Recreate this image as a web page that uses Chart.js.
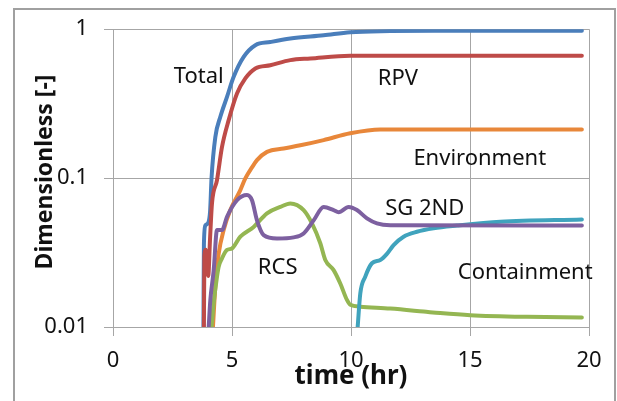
<!DOCTYPE html>
<html>
<head>
<meta charset="utf-8">
<script src="https://cdn.jsdelivr.net/npm/chart.js@4.4.1/dist/chart.umd.min.js"></script>
<style>
  html, body { margin: 0; padding: 0; background: #fff; }
  #wrap { width: 617px; height: 401px; position: relative; }
</style>
</head>
<body>
<div id="wrap"><canvas id="chart" width="617" height="401"></canvas></div>
<script>
// time axis ticks and labels
const xTicks = [0, 5, 10, 15, 20]
const xTickLabels = ["0", "5", "10", "15", "20"]
const yTicks = [0.01, 0.1, 1]
const yTickLabels = ["0.01", "0.1", "1"]

// each series: time [hr] and dimensionless fraction
const totalTime = [3.8, 3.82, 3.88, 4.0, 4.08, 4.14, 4.3, 4.51, 4.79, 5.07, 5.49, 5.98, 6.61, 7.45, 8.85, 9.97, 11.65, 13.5, 19.7]
const totalVal  = [0.01, 0.036, 0.048, 0.05, 0.06, 0.1, 0.189, 0.258, 0.351, 0.479, 0.652, 0.781, 0.82, 0.865, 0.91, 0.955, 0.972, 0.978, 0.978]

const rpvTime = [3.82, 3.84, 3.9, 4.0, 4.08, 4.16, 4.37, 4.58, 4.86, 5.21, 5.56, 5.98, 6.61, 7.45, 8.29, 9.97, 19.7]
const rpvVal  = [0.01, 0.03, 0.033, 0.022, 0.04, 0.068, 0.097, 0.162, 0.245, 0.37, 0.467, 0.545, 0.573, 0.62, 0.636, 0.664, 0.664]

const envTime = [4.2, 4.3, 4.44, 4.65, 4.93, 5.35, 5.56, 5.84, 6.05, 6.47, 7.17, 7.87, 8.85, 9.97, 11.23, 19.7]
const envVal  = [0.01, 0.0187, 0.031, 0.0448, 0.061, 0.083, 0.0995, 0.118, 0.132, 0.15, 0.158, 0.166, 0.18, 0.2, 0.212, 0.212]

const sgTime = [4.02, 4.09, 4.23, 4.37, 4.58, 4.79, 5.21, 5.63, 5.84, 6.05, 6.33, 6.89, 7.59, 8.01, 8.43, 8.85, 9.27, 9.48, 9.9, 10.25, 10.67, 11.09, 11.65, 19.7]
const sgVal  = [0.01, 0.0152, 0.024, 0.0448, 0.0448, 0.055, 0.071, 0.077, 0.071, 0.052, 0.0414, 0.0393, 0.04, 0.0425, 0.052, 0.064, 0.061, 0.059, 0.064, 0.061, 0.0537, 0.0497, 0.0483, 0.048]

const contTime = [10.28, 10.39, 10.6, 10.88, 11.23, 11.51, 11.79, 12.21, 12.77, 13.47, 14.45, 16.27, 19.7]
const contVal  = [0.01, 0.0168, 0.0218, 0.0268, 0.0282, 0.031, 0.0355, 0.0404, 0.0436, 0.046, 0.048, 0.051, 0.0528]

const rcsTime = [4.14, 4.23, 4.37, 4.44, 4.58, 4.79, 5.0, 5.35, 5.91, 6.47, 7.03, 7.45, 8.01, 8.36, 8.71, 8.92, 9.27, 9.55, 9.83, 9.97, 10.39, 11.65, 13.05, 13.75, 15.01, 17.39, 19.7]
const rcsVal  = [0.01, 0.0145, 0.0218, 0.0254, 0.0289, 0.0329, 0.0337, 0.0404, 0.047, 0.058, 0.064, 0.0676, 0.061, 0.0497, 0.0365, 0.0282, 0.0241, 0.0196, 0.0152, 0.0141, 0.0137, 0.0133, 0.0127, 0.0124, 0.012, 0.0117, 0.0116]

// in-plot series names, anchored in data units (centre x, baseline y)
const seriesNames = ["Total", "RPV", "Environment", "SG 2ND", "RCS", "Containment"]
const nameX = [3.6, 11.97, 15.41, 13.1, 6.92, 17.32]
const nameY = [0.434, 0.421, 0.122, 0.0565, 0.0227, 0.021]

const toPoints = (xs, ys) => xs.map((x, i) => ({ x: x, y: ys[i] }))

const gridGray = "#a6a6a6"
const textFont = "'Noto Sans', 'DejaVu Sans', sans-serif"

const line = (label, xs, ys, color) => ({
  label: label,
  data: toPoints(xs, ys),
  borderColor: color,
  backgroundColor: color,
  borderWidth: 4,
  pointRadius: 0,
  cubicInterpolationMode: "monotone",
  borderJoinStyle: "round",
  borderCapStyle: "round",
  fill: false
})

// frame, axis titles and series names
const decorations = {
  id: "decorations",
  beforeDraw(chart) {
    const ctx = chart.ctx
    ctx.save()
    ctx.fillStyle = "#fff"
    ctx.fillRect(0, 0, chart.width, chart.height)
    ctx.strokeStyle = "#a0a0a0"
    ctx.lineWidth = 2
    ctx.strokeRect(14, 9, 601, 420)
    ctx.restore()
  },
  afterDatasetsDraw(chart) {
    const ctx = chart.ctx
    const xs = chart.scales.x
    const ys = chart.scales.y
    ctx.save()
    ctx.fillStyle = "#111"
    ctx.font = "22px " + textFont
    ctx.textAlign = "center"
    ctx.textBaseline = "alphabetic"
    seriesNames.forEach((name, i) => {
      ctx.fillText(name, xs.getPixelForValue(nameX[i]), ys.getPixelForValue(nameY[i]))
    })

    ctx.textBaseline = "middle"
    ctx.font = "bold 26px " + textFont
    ctx.fillText("time (hr)", 351, 377)

    ctx.font = "bold 23px " + textFont
    ctx.translate(45, 172)
    ctx.rotate(-Math.PI / 2)
    ctx.fillText("Dimensionless [-]", 0, 0)
    ctx.restore()
  }
}

new Chart(document.getElementById("chart"), {
  type: "line",
  data: {
    datasets: [
      line("SG 2ND", sgTime, sgVal, "#7d60a0"),
      line("Containment", contTime, contVal, "#40a3bd"),
      line("RCS", rcsTime, rcsVal, "#94b652"),
      line("Environment", envTime, envVal, "#e8873a"),
      line("RPV", rpvTime, rpvVal, "#be4b48"),
      line("Total", totalTime, totalVal, "#4a7ebb")
    ]
  },
  options: {
    responsive: false,
    animation: false,
    devicePixelRatio: 1,
    layout: { padding: { left: 13, top: 29, right: 28, bottom: 0 } },
    plugins: {
      legend: { display: false },
      tooltip: { enabled: false }
    },
    scales: {
      x: {
        type: "linear",
        min: 0,
        max: 20,
        afterBuildTicks: (scale) => { scale.ticks = xTicks.map(v => ({ value: v })) },
        afterFit: (scale) => { scale.height = 74 },
        ticks: {
          color: "#111",
          font: { family: textFont, size: 22 },
          padding: 12,
          maxRotation: 0,
          callback: (v) => xTickLabels[xTicks.indexOf(v)]
        },
        grid: { color: gridGray, lineWidth: 1, tickLength: 9, drawTicks: true },
        border: { color: gridGray, width: 1 }
      },
      y: {
        type: "logarithmic",
        min: 0.01,
        max: 1,
        afterBuildTicks: (scale) => { scale.ticks = yTicks.map(v => ({ value: v })) },
        afterFit: (scale) => { scale.width = 100 },
        ticks: {
          color: "#111",
          font: { family: textFont, size: 22 },
          padding: 16,
          callback: (v) => yTickLabels[yTicks.indexOf(v)]
        },
        grid: { color: gridGray, lineWidth: 1, tickLength: 9, drawTicks: true },
        border: { color: gridGray, width: 1 }
      }
    }
  },
  plugins: [decorations]
})
</script>
</body>
</html>
